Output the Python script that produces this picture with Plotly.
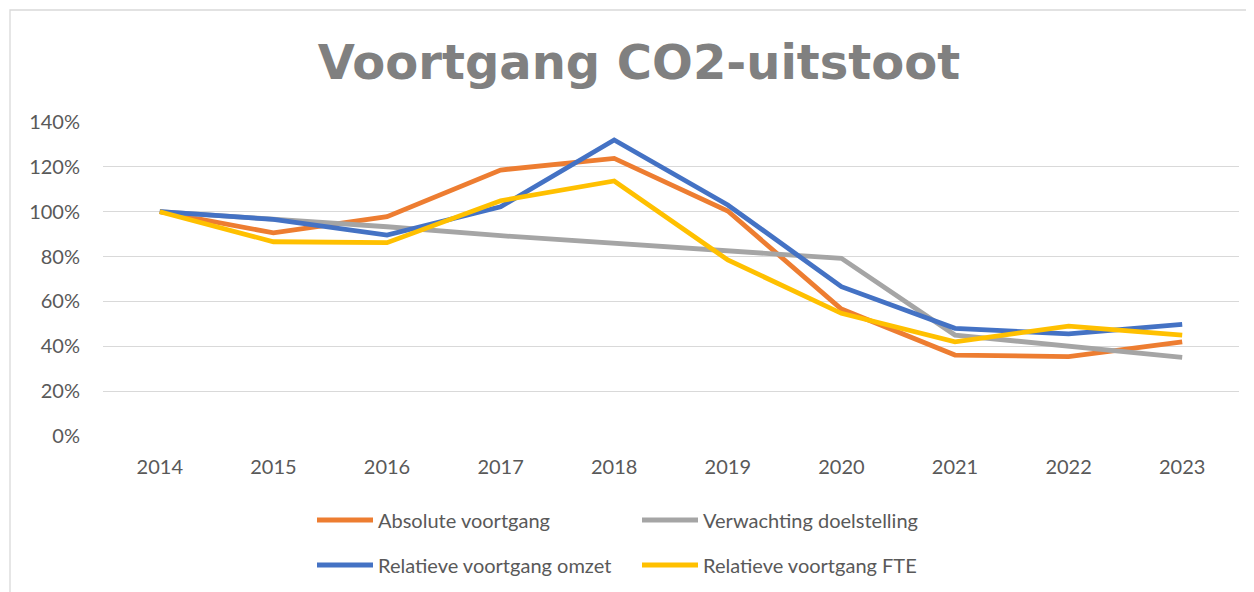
import plotly.graph_objects as go

years = ["2014", "2015", "2016", "2017", "2018", "2019", "2020", "2021", "2022", "2023"]
absolute = [1.00, 0.906, 0.978, 1.186, 1.238, 1.003, 0.566, 0.361, 0.354, 0.420]
verwachting = [1.00, 0.967, 0.933, 0.893, 0.859, 0.822, 0.792, 0.450, 0.401, 0.351]
omzet = [1.00, 0.966, 0.896, 1.022, 1.320, 1.030, 0.666, 0.480, 0.455, 0.498]
fte = [1.00, 0.866, 0.862, 1.049, 1.137, 0.785, 0.547, 0.420, 0.490, 0.450]
y_ticks = [0, 0.2, 0.4, 0.6, 0.8, 1.0, 1.2, 1.4]

# page body has an 8px margin; work in reference pixel coords and compensate
O = 8
W, H = 1254 - O, 592 - O
PL, PR, PT, PB = 103, 1239, 122, 436  # plot area in reference pixels
L, R, T, B = PL - O, W - (PR - O), PT - O, H - (PB - O)
pw, ph = W - L - R, H - T - B

def px(x):
    return (x - PL) / pw

def py(y):
    return (PB - y) / ph

font = "Lato, 'Open Sans', sans-serif"
txt = "#595959"

fig = go.Figure()
series = [
    ("Absolute voortgang", absolute, "#ED7D31", "legend"),
    ("Verwachting doelstelling", verwachting, "#A5A5A5", "legend"),
    ("Relatieve voortgang omzet", omzet, "#4472C4", "legend2"),
    ("Relatieve voortgang FTE", fte, "#FFC000", "legend2"),
]
for name, vals, col, lg in series:
    fig.add_trace(go.Scatter(x=years, y=vals, name=name, mode="lines",
                             line=dict(color=col, width=4.8), legend=lg))

legend_common = dict(orientation="h", font=dict(family=font, size=20, color=txt),
                     bgcolor="rgba(0,0,0,0)", entrywidth=254, entrywidthmode="pixels",
                     xanchor="left", yanchor="middle", itemwidth=56, tracegroupgap=0)

fig.update_layout(
    template="none",
    width=W, height=H,
    margin=dict(l=L, r=R, t=T, b=B, autoexpand=False),
    paper_bgcolor="white", plot_bgcolor="white",
    title=dict(text="<b>Voortgang CO2-uitstoot</b>", x=(639 - O) / W, xanchor="center",
               y=1 - (62 - O) / H, yanchor="middle",
               font=dict(family="'DejaVu Sans', Verdana, sans-serif", size=48, color="#808080")),
    xaxis=dict(type="category", range=[-0.5, len(years) - 0.5], automargin=False,
               showgrid=False, showline=False, zeroline=False,
               ticks="outside", ticklen=13, tickcolor="rgba(0,0,0,0)",
               tickfont=dict(family=font, size=20, color=txt)),
    yaxis=dict(range=[0, 1.4], tickvals=y_ticks, tickformat=".0%", automargin=False,
               showgrid=True, gridcolor="#D9D9D9", gridwidth=1.3,
               zeroline=False, showline=False,
               ticks="outside", ticklen=18, tickcolor="rgba(0,0,0,0)",
               tickfont=dict(family=font, size=20, color=txt)),
    legend=dict(x=px(312), y=py(520), **legend_common),
    legend2=dict(x=px(312), y=py(565), **legend_common),
    showlegend=True,
    shapes=[dict(type="rect", xref="paper", yref="paper",
                 x0=px(10), x1=px(1270), y0=py(610), y1=py(10),
                 line=dict(color="#D9D9D9", width=1.3), fillcolor="rgba(0,0,0,0)", layer="below")],
)

fig.write_html("out.html")
